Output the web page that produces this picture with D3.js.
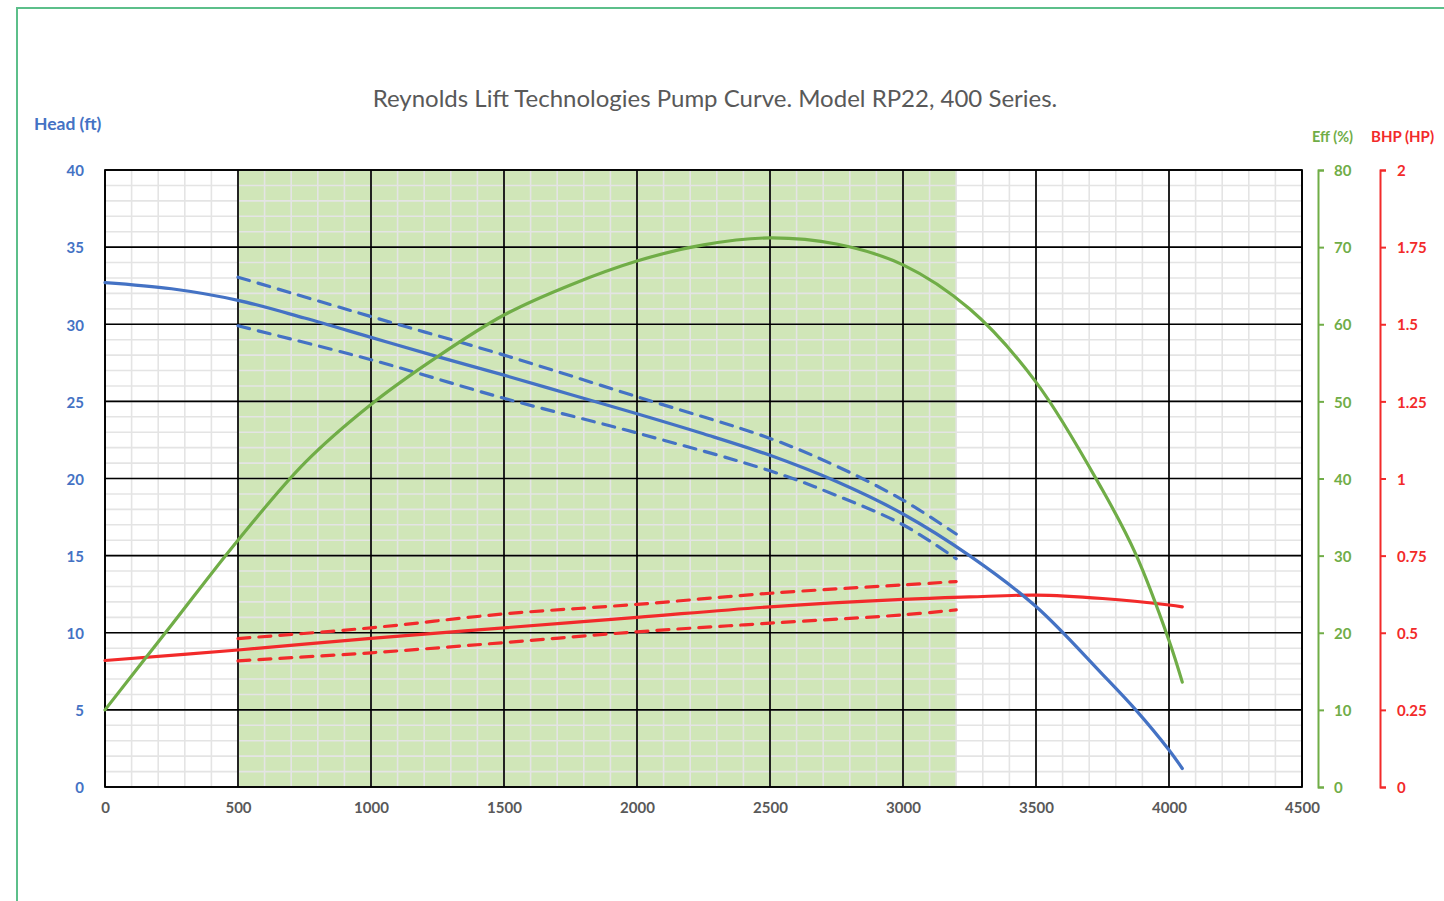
<!DOCTYPE html>
<html>
<head>
<meta charset="utf-8">
<script src="https://cdn.jsdelivr.net/npm/d3@7"></script>
<style>
  html, body { margin: 0; padding: 0; background: #fff; }
  svg { display: block; font-family: Lato, "Open Sans", sans-serif; }
</style>
</head>
<body>
<svg id="chart" width="1444" height="901"></svg>
<script>
// ---------- data ----------
const title = "Reynolds Lift Technologies Pump Curve. Model RP22, 400 Series.";
const xTicks = [0, 500, 1000, 1500, 2000, 2500, 3000, 3500, 4000, 4500];
const headTicks = [0, 5, 10, 15, 20, 25, 30, 35, 40];
const effTicks = [0, 10, 20, 30, 40, 50, 60, 70, 80];
const bhpTicks = [0, 0.25, 0.5, 0.75, 1, 1.25, 1.5, 1.75, 2];
const rangeStart = 500, rangeEnd = 3200;   // recommended operating range

const headFlow = [0, 250, 500, 750, 1000, 1250, 1500, 1750, 2000, 2250, 2500, 2750, 3000, 3250, 3500, 3750, 3875, 4000, 4050];
const headVals = [32.7, 32.3, 31.55, 30.4, 29.15, 27.9, 26.7, 25.45, 24.2, 22.9, 21.5, 19.8, 17.7, 15.0, 11.7, 7.3, 5.0, 2.4, 1.2];

const bandFlow = [500, 1000, 1500, 2000, 2500, 2750, 3000, 3200];
const headUpper = [33.05, 30.5, 28.0, 25.3, 22.6, 20.8, 18.6, 16.4];
const headLower = [29.9, 27.7, 25.2, 22.95, 20.5, 18.9, 17.0, 14.8];

const effFlow = [0, 250, 500, 750, 1000, 1250, 1500, 1750, 2000, 2250, 2500, 2750, 3000, 3250, 3500, 3750, 3875, 4000, 4050];
const effVals = [10, 21, 32, 42, 49.6, 55.8, 61.2, 65.1, 68.2, 70.3, 71.2, 70.4, 67.7, 62.0, 52.5, 38.5, 30.2, 19.0, 13.6];

const bhpFlow = [0, 500, 1000, 1500, 2000, 2500, 3000, 3250, 3500, 3750, 4000, 4050];
const bhpVals = [0.41, 0.444, 0.482, 0.516, 0.55, 0.584, 0.608, 0.616, 0.622, 0.611, 0.59, 0.584];

const bhpBandFlow = [500, 1000, 1500, 2000, 2500, 3000, 3200];
const bhpUpper = [0.481, 0.516, 0.561, 0.592, 0.628, 0.655, 0.666];
const bhpLower = [0.409, 0.435, 0.468, 0.503, 0.531, 0.558, 0.574];

// ---------- styles ----------
const BLUE = "#4472c4", GREEN = "#70ad47", RED = "#f22a2a", GREY = "#595959";

const svg = d3.select("#chart");
const L = 105, R = 1302, T = 170, B = 787;

const x = d3.scaleLinear().domain([0, 4500]).range([L, R]);
const yHead = d3.scaleLinear().domain([0, 40]).range([B, T]);
const yEff = d3.scaleLinear().domain([0, 80]).range([B, T]);
const yBhp = d3.scaleLinear().domain([0, 2]).range([B, T]);

// outer frame
svg.append("path").attr("d", "M17,901 L17,8 L1444,8")
  .attr("fill", "none").attr("stroke", "#5cbf8a").attr("stroke-width", 2);

// title
svg.append("text").attr("x", 715).attr("y", 107).attr("text-anchor", "middle")
  .attr("font-size", 24).attr("fill", GREY).text(title);

// operating range shading
svg.append("rect").attr("x", x(rangeStart)).attr("y", T)
  .attr("width", x(rangeEnd) - x(rangeStart)).attr("height", B - T)
  .attr("fill", "#d0e6b8");

// minor grid
const g = svg.append("g");
g.selectAll(".mv").data(d3.range(0, 4501, 100)).join("line")
  .attr("x1", d => x(d)).attr("x2", d => x(d)).attr("y1", T).attr("y2", B)
  .attr("stroke", "#e4e4e4").attr("stroke-width", 1.6);
g.selectAll(".mh").data(d3.range(0, 41, 1)).join("line")
  .attr("y1", d => yHead(d)).attr("y2", d => yHead(d)).attr("x1", L).attr("x2", R)
  .attr("stroke", "#e4e4e4").attr("stroke-width", 1.6);
// major grid
g.selectAll(".Mv").data(xTicks).join("line")
  .attr("x1", d => x(d)).attr("x2", d => x(d)).attr("y1", T).attr("y2", B)
  .attr("stroke", "#000").attr("stroke-width", 1.7);
g.selectAll(".Mh").data(headTicks).join("line")
  .attr("y1", d => yHead(d)).attr("y2", d => yHead(d)).attr("x1", L).attr("x2", R)
  .attr("stroke", "#000").attr("stroke-width", 1.7);
svg.append("rect").attr("x", L).attr("y", T).attr("width", R - L).attr("height", B - T)
  .attr("fill", "none").attr("stroke", "#000").attr("stroke-width", 1.7);

// curves
function drawLine(xs, ys, yScale, color, dashed) {
  const line = d3.line().x((d, i) => x(xs[i])).y(d => yScale(d)).curve(d3.curveCatmullRom.alpha(0.5));
  svg.append("path").datum(ys).attr("d", line)
    .attr("fill", "none").attr("stroke", color).attr("stroke-width", 3.2)
    .attr("stroke-linecap", "round")
    .attr("stroke-dasharray", dashed ? "12,9" : null);
}
drawLine(bhpBandFlow, bhpUpper, yBhp, RED, true);
drawLine(bhpBandFlow, bhpLower, yBhp, RED, true);
drawLine(bhpFlow, bhpVals, yBhp, RED, false);
drawLine(bandFlow, headUpper, yHead, BLUE, true);
drawLine(bandFlow, headLower, yHead, BLUE, true);
drawLine(headFlow, headVals, yHead, BLUE, false);
drawLine(effFlow, effVals, yEff, GREEN, false);

// axes
const fontAx = 15;
const ax = svg.append("g").attr("transform", `translate(${L - 18},1)`)
  .call(d3.axisLeft(yHead).tickValues(headTicks).tickSize(0).tickFormat(d3.format("d")));
ax.select(".domain").remove();
ax.selectAll("text").attr("fill", BLUE).attr("font-size", fontAx).attr("font-weight", "bold")
  .attr("font-family", "Lato");

const bx = svg.append("g").attr("transform", `translate(0,${B + 12})`)
  .call(d3.axisBottom(x).tickValues(xTicks).tickSize(0).tickFormat(d3.format("d")));
bx.select(".domain").remove();
bx.selectAll("text").attr("fill", GREY).attr("font-size", fontAx).attr("font-weight", "bold")
  .attr("font-family", "Lato");

const ex = svg.append("g").attr("transform", "translate(1318,0)")
  .call(d3.axisRight(yEff).tickValues(effTicks).tickSize(6).tickPadding(10));
ex.select(".domain").attr("stroke", GREEN).attr("stroke-width", 2);
ex.selectAll(".tick line").attr("stroke", GREEN).attr("stroke-width", 2);
ex.selectAll("text").attr("fill", GREEN).attr("font-size", fontAx).attr("font-weight", "bold")
  .attr("font-family", "Lato").attr("dy", "0.38em");

const hx = svg.append("g").attr("transform", "translate(1380,0)")
  .call(d3.axisRight(yBhp).tickValues(bhpTicks).tickSize(6).tickPadding(11).tickFormat(d => String(d)));
hx.select(".domain").attr("stroke", RED).attr("stroke-width", 2);
hx.selectAll(".tick line").attr("stroke", RED).attr("stroke-width", 2);
hx.selectAll("text").attr("fill", RED).attr("font-size", fontAx).attr("font-weight", "bold")
  .attr("font-family", "Lato").attr("dy", "0.38em");

// axis titles
svg.append("text").attr("x", 34).attr("y", 130).attr("font-size", 17.5).attr("font-weight", "bold")
  .attr("fill", BLUE).text("Head (ft)");
svg.append("text").attr("x", 1312).attr("y", 142).attr("font-size", 14.5).attr("font-weight", "bold")
  .attr("fill", GREEN).text("Eff (%)");
svg.append("text").attr("x", 1371).attr("y", 142).attr("font-size", 15).attr("font-weight", "bold")
  .attr("fill", RED).text("BHP (HP)");
</script>
</body>
</html>
